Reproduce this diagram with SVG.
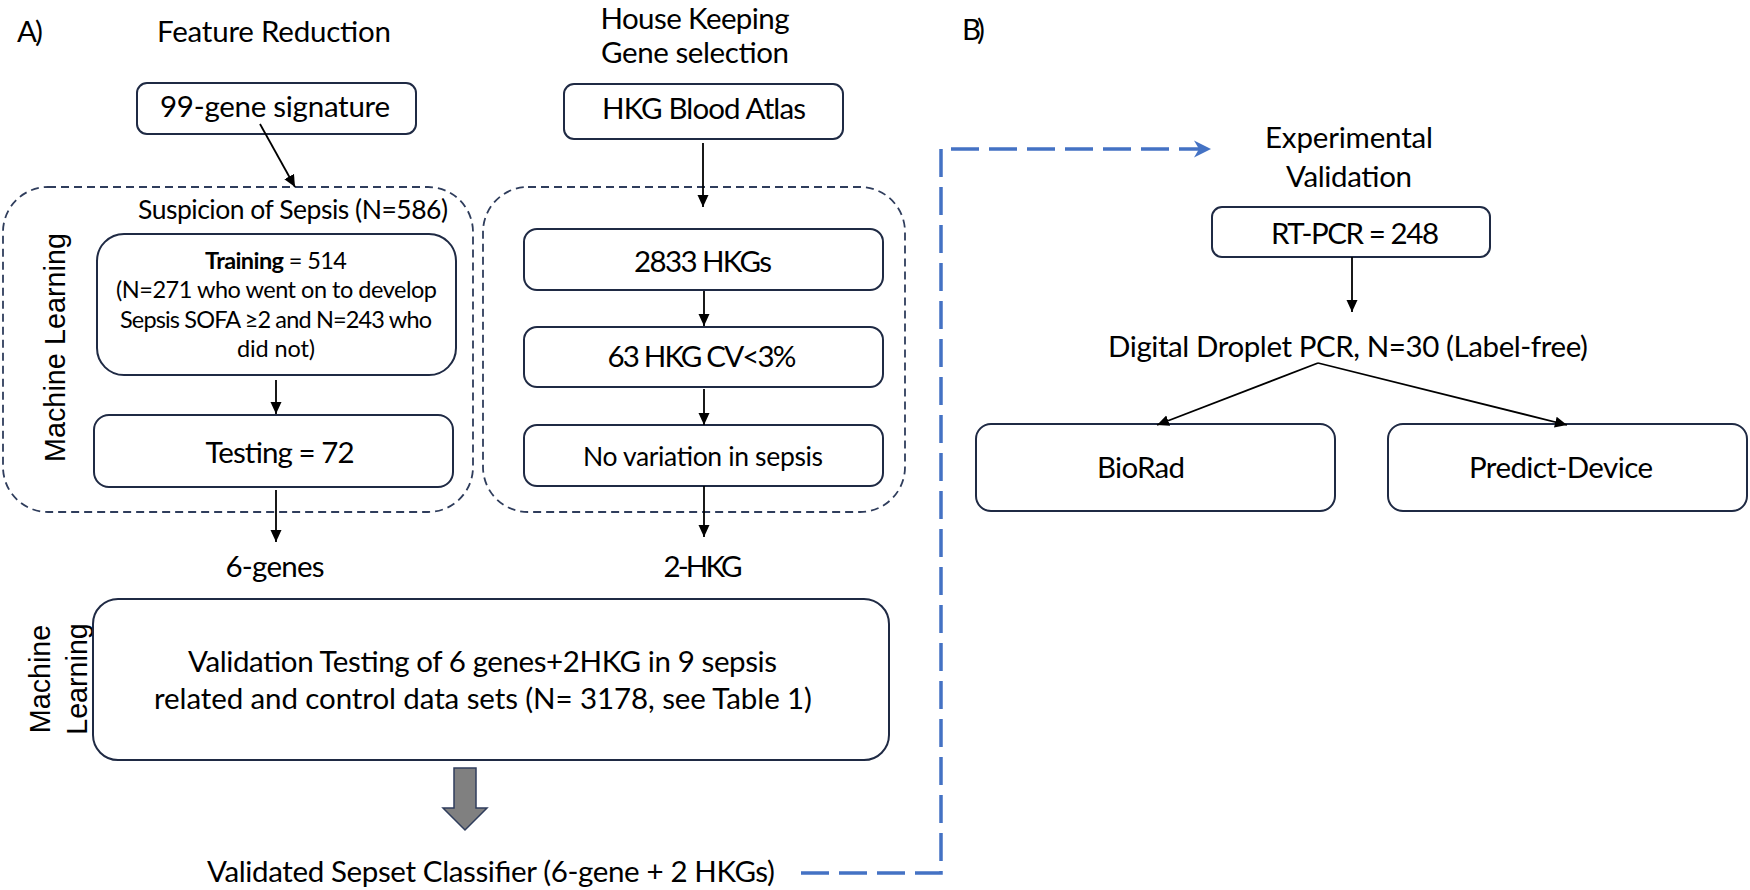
<svg xmlns="http://www.w3.org/2000/svg" width="1750" height="890" viewBox="0 0 1750 890">
<style>
  text { font-family: Lato, "Open Sans", "Liberation Sans", sans-serif; fill: #000; }
  .t31 { font-size: 29.5px; }
  .t28 { font-size: 26.5px; }
  .t25 { font-size: 23.5px; }
  .c { text-anchor: middle; }
  .ml { font-family: "Liberation Sans", Arial, sans-serif; font-size: 28.7px; text-anchor: middle; }
  .box { fill: #fff; stroke: #1f2a44; stroke-width: 2; }
  .dash { fill: none; stroke: #2f3d5c; stroke-width: 1.8; stroke-dasharray: 8 5; }
  .arr { stroke: #000; stroke-width: 1.8; fill: none; marker-end: url(#ah); }
  .blue { fill: none; stroke: #4472c4; stroke-width: 3.5; stroke-dasharray: 28 10; marker-end: url(#bh); }
</style>
<defs>
  <marker id="ah" markerUnits="userSpaceOnUse" markerWidth="12" markerHeight="12" viewBox="0 0 12 12" refX="12" refY="6" orient="auto">
    <path d="M0,0.5 L12,6 L0,11.5 z" fill="#000"/>
  </marker>
  <marker id="bh" markerUnits="userSpaceOnUse" markerWidth="18" markerHeight="18" viewBox="0 0 18 18" refX="17" refY="9" orient="auto">
    <path d="M0,0.5 L17,9 L0,17.5 L5,9 z" fill="#4472c4"/>
  </marker>
</defs>
<rect width="1750" height="890" fill="#fff"/>

<g id="titles">
  <text class="t31" x="17" y="42" textLength="26">A)</text>
  <text class="t31 c" x="274" y="42" textLength="234">Feature Reduction</text>
  <text class="t31 c" x="695" y="29" textLength="189">House Keeping</text>
  <text class="t31 c" x="695" y="63" textLength="188">Gene selection</text>
  <text class="t31" x="962" y="40" textLength="23">B)</text>
  <text class="t31 c" x="1349" y="148" textLength="168">Experimental</text>
  <text class="t31 c" x="1349" y="187" textLength="126">Validation</text>
</g>

<g id="containers">
  <rect id="container-ml" class="dash" x="3" y="187" width="470" height="325" rx="45"/>
  <rect id="container-hkg" class="dash" x="483" y="187" width="422" height="325" rx="45"/>
  <text class="t28 c" x="293" y="219" textLength="310">Suspicion of Sepsis (N=586)</text>
  <text class="ml" transform="translate(65,347.5) rotate(-90)" textLength="229">Machine Learning</text>
  <text class="ml" transform="translate(50,679) rotate(-90)">Machine</text>
  <text class="ml" transform="translate(87,679) rotate(-90)">Learning</text>
</g>

<g id="node-99gene">
  <rect class="box" x="137" y="83" width="279" height="51" rx="10"/>
  <text class="t31 c" x="275" y="117" textLength="230">99-gene signature</text>
</g>
<g id="node-hkgatlas">
  <rect class="box" x="564" y="84" width="279" height="55" rx="10"/>
  <text class="t31 c" x="704" y="119" textLength="204">HKG Blood Atlas</text>
</g>
<g id="node-training">
  <rect class="box" x="97" y="234" width="359" height="141" rx="27"/>
  <text class="t25 c" x="276" y="269" textLength="142"><tspan font-weight="bold">Training</tspan> = 514</text>
  <text class="t25 c" x="276.5" y="298" textLength="321">(N=271 who went on to develop</text>
  <text class="t25 c" x="276" y="328" textLength="312">Sepsis SOFA ≥2 and N=243 who</text>
  <text class="t25 c" x="276" y="357" textLength="78">did not)</text>
</g>
<g id="node-testing">
  <rect class="box" x="94" y="415" width="359" height="72" rx="15"/>
  <text class="t31 c" x="280" y="463" textLength="149">Testing = 72</text>
</g>
<g id="node-2833">
  <rect class="box" x="524" y="229" width="359" height="61" rx="13"/>
  <text class="t31 c" x="703" y="272" textLength="138">2833 HKGs</text>
</g>
<g id="node-63">
  <rect class="box" x="524" y="327" width="359" height="60" rx="13"/>
  <text class="t31 c" x="702" y="367" textLength="189">63 HKG CV&lt;3%</text>
</g>
<g id="node-novar">
  <rect class="box" x="524" y="425" width="359" height="61" rx="13"/>
  <text class="t28 c" x="703" y="466" textLength="240">No variation in sepsis</text>
</g>
<g id="node-6genes">
  <text class="t31 c" x="275" y="577" textLength="99">6-genes</text>
</g>
<g id="node-2hkg">
  <text class="t31 c" x="703" y="577" textLength="79">2-HKG</text>
</g>
<g id="node-validation">
  <rect class="box" x="93" y="599" width="796" height="161" rx="25"/>
  <text class="t31 c" x="482.5" y="672" textLength="589">Validation Testing of 6 genes+2HKG in 9 sepsis</text>
  <text class="t31 c" x="483" y="709" textLength="658">related and control data sets (N= 3178, see Table 1)</text>
</g>
<g id="node-classifier">
  <text class="t31 c" x="491" y="882" textLength="568">Validated Sepset Classifier (6-gene + 2 HKGs)</text>
</g>
<g id="node-rtpcr">
  <rect class="box" x="1212" y="207" width="278" height="50" rx="10"/>
  <text class="t31 c" x="1355" y="244" textLength="168">RT-PCR = 248</text>
</g>
<g id="node-ddpcr">
  <text class="t31 c" x="1348" y="357" textLength="480">Digital Droplet PCR, N=30 (Label-free)</text>
</g>
<g id="node-biorad">
  <rect class="box" x="976" y="424" width="359" height="87" rx="15"/>
  <text class="t31 c" x="1141" y="478" textLength="88">BioRad</text>
</g>
<g id="node-predict">
  <rect class="box" x="1388" y="424" width="359" height="87" rx="15"/>
  <text class="t31 c" x="1561" y="478" textLength="184">Predict-Device</text>
</g>

<g id="connectors">
  <line class="arr" x1="260" y1="124" x2="295" y2="187"/>
  <line class="arr" x1="703" y1="143" x2="703" y2="207"/>
  <line class="arr" x1="276" y1="380" x2="276" y2="414"/>
  <line class="arr" x1="276" y1="490" x2="276" y2="542"/>
  <line class="arr" x1="704" y1="291" x2="704" y2="326"/>
  <line class="arr" x1="704" y1="389" x2="704" y2="425"/>
  <line class="arr" x1="704" y1="486" x2="704" y2="537"/>
  <line class="arr" x1="1352" y1="257" x2="1352" y2="312"/>
  <line class="arr" x1="1318" y1="363" x2="1157" y2="425"/>
  <line class="arr" x1="1318" y1="363" x2="1567" y2="425"/>
  <polygon points="454,768 476,768 476,808 487,808 465,830 443,808 454,808" fill="#808080" stroke="#2f3d5c" stroke-width="1.5"/>
  <path class="blue" d="M801,873 H941 V149 H1211"/>
</g>
</svg>
